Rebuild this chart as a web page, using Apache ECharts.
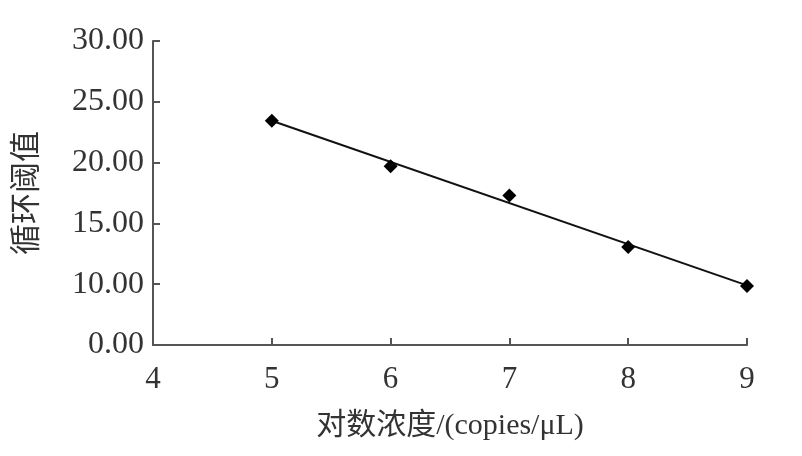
<!DOCTYPE html>
<html><head><meta charset="utf-8">
<script src="https://cdn.jsdelivr.net/npm/echarts@6/dist/echarts.min.js"></script>
<style>html,body{margin:0;padding:0;background:#fff}#c{width:802px;height:456px}</style>
</head><body><div id="c"></div>
<script>
const logConc = [5, 6, 7, 8, 9];
const ctValues = [23.45, 19.7, 17.3, 13.05, 9.85];
const yTickValues = [5, 10, 15, 20, 25, 30];
const yTickLabels = ['0.00', '10.00', '15.00', '20.00', '25.00', '30.00'];
const xTickLabels = ['4', '5', '6', '7', '8', '9'];
const xTitle = '对数浓度/(copies/μL)';
const yTitle = '循环阈值';

// linear trendline fitted to the points
const n = logConc.length;
const mx = logConc.reduce((a, b) => a + b, 0) / n;
const my = ctValues.reduce((a, b) => a + b, 0) / n;
let sxy = 0, sxx = 0;
for (let i = 0; i < n; i++) { sxy += (logConc[i] - mx) * (ctValues[i] - my); sxx += (logConc[i] - mx) ** 2; }
const slope = sxy / sxx, icpt = my - slope * mx;
const xs = [logConc[0], logConc[n - 1]];
const trend = xs.map(x => [x, icpt + slope * x]);

const font = '"Liberation Serif", "Noto Sans CJK SC", serif';
const chart = echarts.init(document.getElementById('c'));
chart.setOption({
  animation: false,
  grid: { left: 153, right: 55, top: 41, bottom: 111 },
  xAxis: {
    type: 'value', min: 4, max: 9, interval: 1,
    name: xTitle, nameLocation: 'middle', nameGap: 66,
    nameTextStyle: { fontFamily: font, fontSize: 30, color: '#333' },
    axisLine: { lineStyle: { color: '#555', width: 2 } },
    axisTick: { inside: true, length: 7, lineStyle: { color: '#555', width: 2 } },
    axisLabel: { fontFamily: font, fontSize: 31, color: '#333', margin: 19,
      formatter: v => xTickLabels[Math.round(v) - 4] },
    splitLine: { show: false }
  },
  yAxis: {
    type: 'value', min: 5, max: 30, interval: 5,
    name: yTitle, nameLocation: 'middle', nameGap: 110, nameRotate: 90,
    nameTextStyle: { fontFamily: font, fontSize: 31, color: '#333' },
    axisLine: { show: true, lineStyle: { color: '#555', width: 2 } },
    axisTick: { show: true, inside: true, length: 7, lineStyle: { color: '#555', width: 2 } },
    axisLabel: { fontFamily: font, fontSize: 32, color: '#333', margin: 9,
      formatter: v => yTickLabels[yTickValues.indexOf(Math.round(v))] },
    splitLine: { show: false }
  },
  series: [
    { type: 'line', data: trend, symbol: 'none', lineStyle: { color: '#111', width: 2 }, z: 2 },
    { type: 'scatter', data: logConc.map((x, i) => [x, ctValues[i]]), symbol: 'diamond', symbolSize: 14,
      itemStyle: { color: '#000', opacity: 1 }, z: 3 }
  ]
});
</script></body></html>
